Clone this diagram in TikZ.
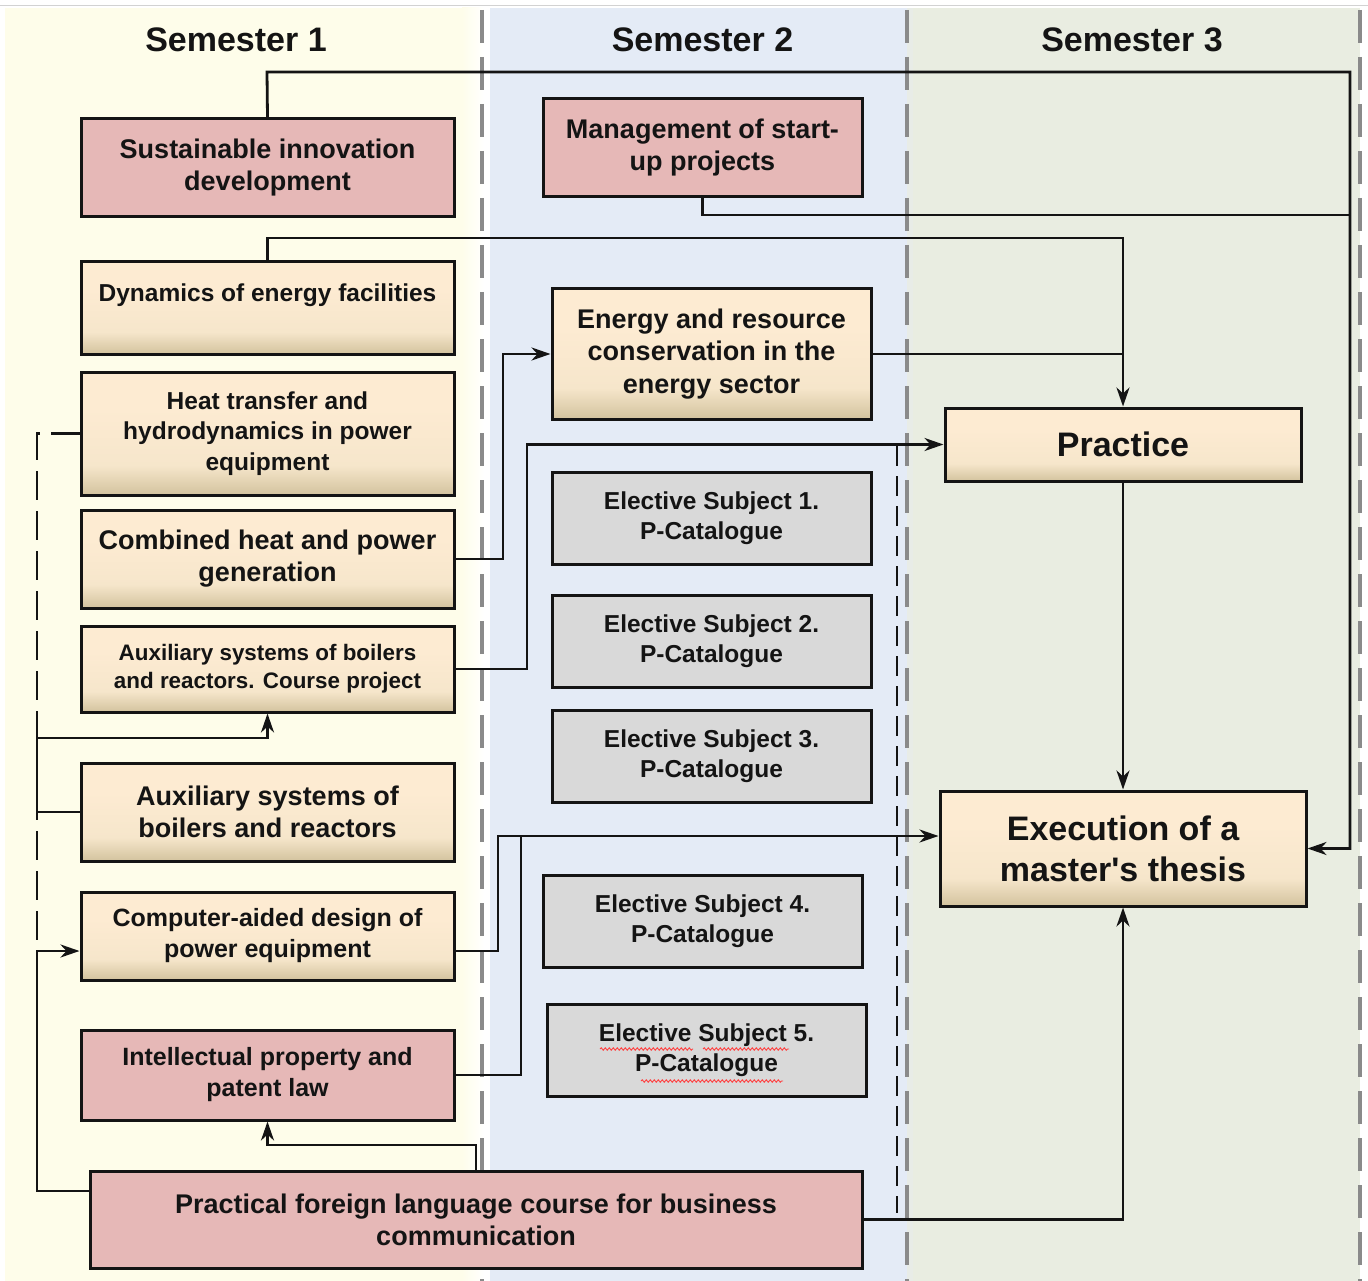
\documentclass[tikz,border=0pt]{standalone}
\usepackage{fontspec}
\setmainfont{Liberation Sans}
\usetikzlibrary{arrows.meta,calc,decorations.pathmorphing}
\definecolor{semA}{HTML}{FEFDEA}
\definecolor{semB}{HTML}{E4EBF6}
\definecolor{semC}{HTML}{E9EDE1}
\definecolor{pinkbox}{HTML}{E6B8B7}
\definecolor{graybox}{HTML}{D9D9D9}
\definecolor{creamtop}{HTML}{FDEBD2}
\definecolor{creammid}{HTML}{F6E6CB}
\definecolor{tanbot}{HTML}{D3C39E}
\definecolor{divgray}{HTML}{8A8A8A}
\definecolor{ink}{HTML}{141414}
\pgfdeclareverticalshading{creamgrad}{100bp}{color(0bp)=(tanbot); color(25bp)=(tanbot); color(37bp)=(creammid); color(60bp)=(creamtop); color(100bp)=(creamtop)}
\tikzset{
  fsz/.style 2 args={font=\fontsize{#1}{#2}\selectfont\bfseries},
  box/.style={draw=ink, line width=3pt, inner sep=0pt, align=center, text=ink},
  pinkbx/.style={box, fill=pinkbox},
  graybx/.style={box, fill=graybox},
  creambx/.style={box, shade, shading=creamgrad},
  conn/.style={draw=ink, line width=2.8pt},
  arr/.style={conn, -{Stealth[length=19pt,width=13pt,inset=6pt]}},
  divider/.style={draw=divgray, line width=4.5pt, dash pattern=on 33pt off 14pt},
  squig/.style={draw=red!75, line width=0.9pt, decorate, decoration={snake, amplitude=1.2pt, segment length=4pt}},
}
\begin{document}
\begin{tikzpicture}[x=1pt,y=-1pt]
% background
\fill[white] (0,0) rectangle (1368,1281);
\useasboundingbox (0,0) rectangle (1368,1281);
\draw[gray!35, line width=1pt] (0,6) -- (1368,6);
\fill[semA] (5,8) rectangle (484,1281);
\shade[left color=semA, right color=white] (462,8) rectangle (484,1281);
\fill[white] (484,8) rectangle (490,1281);
\fill[semB] (490,8) rectangle (907,1281);
\fill[semC!70!semB] (907,8) rectangle (913,1281);
\fill[semC] (913,8) rectangle (1360,1281);
\draw[divider] (482,10) -- (482,1281);
\draw[divider] (907,10) -- (907,1281);
\draw[divider] (1360,10) -- (1360,1281);

% titles
\node[fsz={34}{40}, text=ink] (t1) at (236,40) {Semester 1};
\node[fsz={34}{40}, text=ink] (t2) at (702.5,40) {Semester 2};
\node[fsz={34}{40}, text=ink] (t3) at (1132,40) {Semester 3};

% semester 1
\node[pinkbx, fsz={27}{32}, minimum width=373pt, minimum height=98pt] (sid) at (267.5,168) {Sustainable innovation\\development};
\node[creambx, fsz={24.5}{30}, minimum width=373pt, minimum height=92pt] (dyn) at (267.5,308) {\raisebox{6.5pt}[0pt][0pt]{Dynamics of energy facilities}};
\node[creambx, fsz={24.5}{30.5}, minimum width=373pt, minimum height=123pt] (heat) at (267.5,433.5) {Heat transfer and\\hydrodynamics in power\\equipment};
\node[creambx, fsz={27}{32}, minimum width=373pt, minimum height=98pt] (chp) at (267.5,559) {Combined heat and power\\generation};
\node[creambx, fsz={22.4}{28}, minimum width=373pt, minimum height=86pt] (auxcp) at (267.5,669) {Auxiliary systems of boilers\\and reactors. Course project};
\node[creambx, fsz={27}{32}, minimum width=373pt, minimum height=98pt] (auxsys) at (267.5,812) {Auxiliary systems of\\boilers and reactors};
\node[creambx, fsz={25}{31}, minimum width=373pt, minimum height=88pt] (cad) at (267.5,936) {Computer-aided design of\\power equipment};
\node[pinkbx, fsz={25}{31}, minimum width=373pt, minimum height=90pt] (ipl) at (267.5,1075) {Intellectual property and\\patent law};
\node[pinkbx, fsz={27}{32}, minimum width=772pt, minimum height=97pt] (pfl) at (476,1219.5) {Practical foreign language course for business\\communication};

% semester 2
\node[pinkbx, fsz={27}{32}, minimum width=319pt, minimum height=98pt] (msp) at (702.5,148) {Management of start-\\up projects};
\node[creambx, fsz={27}{32.5}, minimum width=319pt, minimum height=130pt] (erc) at (711.5,354) {Energy and resource\\conservation in the\\energy sector};
\node[graybx, fsz={24.5}{30}, minimum width=319pt, minimum height=92pt] (el1) at (711.5,518) {Elective Subject 1.\\P-Catalogue};
\node[graybx, fsz={24.5}{30}, minimum width=319pt, minimum height=92pt] (el2) at (711.5,641) {Elective Subject 2.\\P-Catalogue};
\node[graybx, fsz={24.5}{30}, minimum width=319pt, minimum height=92pt] (el3) at (711.5,756) {Elective Subject 3.\\P-Catalogue};
\node[graybx, fsz={24.5}{30}, minimum width=319pt, minimum height=92pt] (el4) at (702.5,921) {Elective Subject 4.\\P-Catalogue};
\node[graybx, fsz={24.5}{30}, minimum width=319pt, minimum height=92pt] (el5) at (706.5,1050) {Elective Subject 5.\\P-Catalogue};
\draw[squig] (600,1049) -- (693,1049);
\draw[squig] (703,1049) -- (789,1049);
\draw[squig] (641,1081) -- (783,1081);

% semester 3
\node[creambx, fsz={34}{40}, minimum width=356pt, minimum height=73pt] (prac) at (1123,444.5) {Practice};
\node[creambx, fsz={34}{41}, minimum width=366pt, minimum height=115pt] (exe) at (1123,848.5) {Execution of a\\master\textquotesingle s thesis};

% coordinates
\coordinate (topL) at (267,72);
\coordinate (topR) at (1350,72);
\coordinate (mspB) at (702,215);
\coordinate (dynT) at (267,238);
\coordinate (chpX) at (503,0);
\coordinate (cpX) at (527,0);
\coordinate (dsT) at (897,446);
\coordinate (dsB) at (897,1213);
\coordinate (exeIn) at (940,836);
\coordinate (cadX) at (498,951);
\coordinate (iplX) at (521,0);
\coordinate (pflT) at (476,1145);
\coordinate (lx) at (37,0);
\coordinate (auxY) at (0,738);
\coordinate (pflL) at (0,1191);

% connectors
\draw[arr] (sid.north) -- (topL) -- (topR) -- (topR |- exe.east) -- (exe.east);
\draw[conn] (msp.south) -- (msp.south |- mspB) -- (topR |- mspB);
\draw[arr] (dyn.north) -- (dyn.north |- dynT) -- (prac.north |- dynT) -- (prac.north);
\draw[conn] (erc.east) -- (prac.north |- erc.east);
\draw[arr] (chp.east) -- (chpX |- chp.east) -- (chpX |- erc.west) -- (erc.west);
\draw[arr] (auxcp.east) -- (cpX |- auxcp.east) -- (cpX |- prac.west) -- (prac.west);
\draw[conn, dash pattern=on 20pt off 10pt] (dsT) -- (dsB);
\draw[arr] (prac.south) -- (exe.north);
\draw[arr] (pfl.east) -- (exe.south |- pfl.east) -- (exe.south);
\draw[arr] (cad.east |- cadX) -- (cadX) -- (cadX |- exeIn) -- (exe.west |- exeIn);
\draw[conn] (ipl.east) -- (iplX |- ipl.east) -- (iplX |- exeIn);
\draw[arr] (pfl.north) -- (pflT) -- (ipl.south |- pflT) -- (ipl.south);
\draw[conn, dash pattern=on 29pt off 11pt] (heat.west) -- (lx |- heat.west) -- (lx |- cadX);
\draw[arr] (auxsys.west) -- (lx |- auxsys.west) -- (lx |- auxY) -- (auxcp.south |- auxY) -- (auxcp.south);
\draw[arr] (pfl.west |- pflL) -- (lx |- pflL) -- (lx |- cadX) -- (cad.west |- cadX);
\end{tikzpicture}
\end{document}
